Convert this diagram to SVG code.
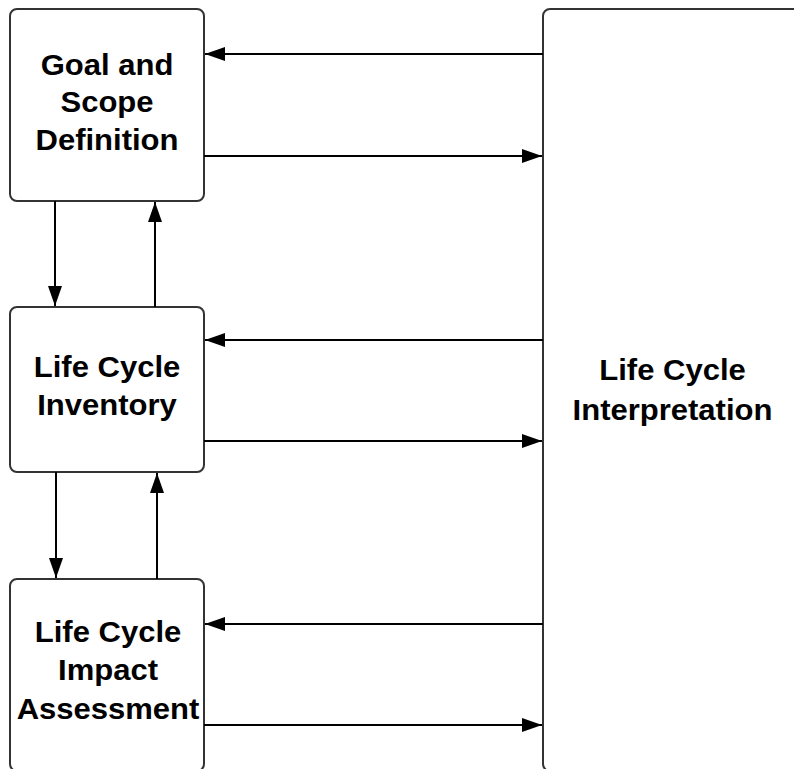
<svg xmlns="http://www.w3.org/2000/svg" width="794" height="769" viewBox="0 0 794 769">
  <style>
    .box { fill: #ffffff; stroke: #333333; stroke-width: 2; }
    .lbl { font-family: "Liberation Sans", Arial, Helvetica, sans-serif; font-weight: bold; font-size: 29px; fill: #000000; text-anchor: middle; }
    .conn { stroke: #000000; stroke-width: 2; fill: none; marker-end: url(#arrow); }
  </style>
  <defs>
    <marker id="arrow" markerUnits="userSpaceOnUse" markerWidth="20" markerHeight="14" refX="20" refY="7" orient="auto">
      <path d="M0,0 L20,7 L0,14 z" fill="#000000"/>
    </marker>
  </defs>
  <rect width="794" height="769" fill="#ffffff"/>

  <!-- Stage boxes -->
  <g id="goal-scope">
    <rect class="box" x="10" y="9" width="194" height="192" rx="7"/>
    <g transform="translate(107 0) scale(1.07 1)">
      <text class="lbl" x="0" y="75">Goal and</text>
      <text class="lbl" x="0" y="112.5">Scope</text>
      <text class="lbl" x="0" y="150">Definition</text>
    </g>
  </g>

  <g id="inventory">
    <rect class="box" x="10" y="307" width="194" height="165" rx="7"/>
    <g transform="translate(107 0) scale(1.07 1)">
      <text class="lbl" x="0" y="377">Life Cycle</text>
      <text class="lbl" x="0" y="415">Inventory</text>
    </g>
  </g>

  <g id="impact-assessment">
    <rect class="box" x="10" y="579" width="194" height="192" rx="7"/>
    <g transform="translate(108 0) scale(1.07 1)">
      <text class="lbl" x="0" y="642">Life Cycle</text>
      <text class="lbl" x="0" y="680">Impact</text>
      <text class="lbl" x="0" y="719">Assessment</text>
    </g>
  </g>

  <g id="interpretation">
    <rect class="box" x="543" y="9" width="258" height="762" rx="7"/>
    <g transform="translate(672.5 0) scale(1.07 1)">
      <text class="lbl" x="0" y="380">Life Cycle</text>
      <text class="lbl" x="0" y="420">Interpretation</text>
    </g>
  </g>

  <!-- Connectors -->
  <g id="connectors">
    <line class="conn" x1="543" y1="54" x2="205" y2="54"/>
    <line class="conn" x1="204" y1="156" x2="542" y2="156"/>
    <line class="conn" x1="543" y1="340" x2="205" y2="340"/>
    <line class="conn" x1="204" y1="441" x2="542" y2="441"/>
    <line class="conn" x1="543" y1="624" x2="205" y2="624"/>
    <line class="conn" x1="204" y1="725" x2="542" y2="725"/>

    <line class="conn" x1="55" y1="201" x2="55" y2="306"/>
    <line class="conn" x1="155" y1="307" x2="155" y2="202"/>
    <line class="conn" x1="56" y1="472" x2="56" y2="578"/>
    <line class="conn" x1="157" y1="579" x2="157" y2="473"/>
  </g>
</svg>
